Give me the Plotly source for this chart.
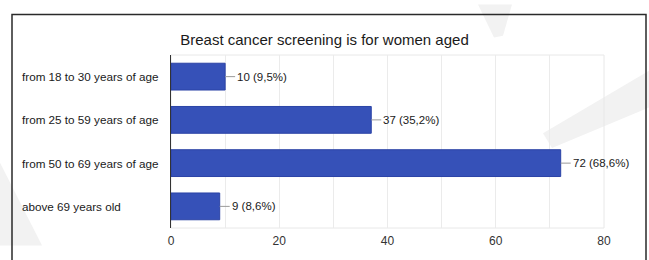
import plotly.graph_objects as go

categories = ["from 18 to 30 years of age", "from 25 to 59 years of age",
              "from 50 to 69 years of age", "above 69 years old"]
counts = [10, 37, 72, 9]
percents = ["9,5%", "35,2%", "68,6%", "8,6%"]
x_ticks = [0, 20, 40, 60, 80]
title_text = "Breast cancer screening is for women aged"

W, H = 649, 260
L, R, T, B = 171, 45, 55, 17
PW, PH = W - L - R, H - T - B


def px(x, y):
    return (x - L) / PW, (H - B - y) / PH


fig = go.Figure()
fig.add_trace(go.Bar(
    y=categories, x=counts, orientation="h",
    marker=dict(color="#3651b8", line=dict(color="#2b43a6", width=1)),
    hoverinfo="skip",
))

annotations = []
for c, v, p in zip(categories, counts, percents):
    annotations.append(dict(
        x=v, y=c, xref="x", yref="y", text=f"{v} ({p})",
        showarrow=True, arrowhead=0, arrowwidth=1, arrowcolor="#9a9a9a",
        ax=10, ay=0, xanchor="left", standoff=0,
        font=dict(size=11.5, color="#1a1a1a", family="Liberation Sans, Arial"),
    ))
for c in categories:
    annotations.append(dict(
        x=px(20, 0)[0], y=c, xref="paper", yref="y", text=c,
        showarrow=False, xanchor="left",
        font=dict(size=11.7, color="#1a1a1a", family="Liberation Sans, Arial"),
    ))

shapes = []
# faint watermark bands
def poly(points, color="#f2f2f2"):
    pts = [px(a, b) for a, b in points]
    d = "M " + " L ".join(f"{a},{b}" for a, b in pts) + " Z"
    return dict(type="path", path=d, xref="paper", yref="paper",
                fillcolor=color, line=dict(width=0), layer="below")

shapes.append(poly([(0, 172), (42, 262), (0, 262)]))
shapes.append(poly([(543, 140), (649, 72), (649, 112), (552, 156)]))
shapes.append(poly([(478, 0), (512, 0), (503, 34), (494, 36)]))
# frame
x0, y0 = px(12, 11)
x1, y1 = px(646, 280)
shapes.append(dict(type="rect", xref="paper", yref="paper", x0=x0, y0=y1, x1=x1, y1=y0,
                   line=dict(color="#2a2a2a", width=1.5), fillcolor="rgba(0,0,0,0)", layer="above"))
# plot area light border
shapes.append(dict(type="rect", xref="paper", yref="paper", x0=0, y0=0, x1=1, y1=1,
                   line=dict(color="#e8e8e8", width=1), layer="below"))

fig.update_layout(
    width=W, height=H, margin=dict(l=L, r=R, t=T, b=B, pad=0),
    paper_bgcolor="white", plot_bgcolor="white",
    showlegend=False, bargap=0.38,
    title=dict(text=title_text, x=0.5, xref="container", xanchor="center",
               y=1 - 40 / H, yanchor="middle",
               font=dict(size=15, color="#1a1a1a", family="Liberation Sans, Arial")),
    xaxis=dict(range=[0, 80], tickvals=x_ticks, ticktext=[str(t) for t in x_ticks],
               showgrid=True, gridcolor="#ebebeb", gridwidth=1,
               minor=dict(dtick=10, showgrid=True, gridcolor="#ebebeb", gridwidth=1),
               zeroline=False, showline=False, ticks="", ticklabelstandoff=4,
               tickfont=dict(size=12, color="#333", family="Liberation Sans, Arial")),
    yaxis=dict(autorange="reversed", showticklabels=False, showgrid=False,
               zeroline=False, showline=True, linecolor="#333", linewidth=1.5, ticks=""),
    annotations=annotations, shapes=shapes,
)
fig.write_html("out.html", config={"displayModeBar": False, "staticPlot": True},
               post_script="document.body.style.margin='0';document.body.style.overflow='hidden';")
